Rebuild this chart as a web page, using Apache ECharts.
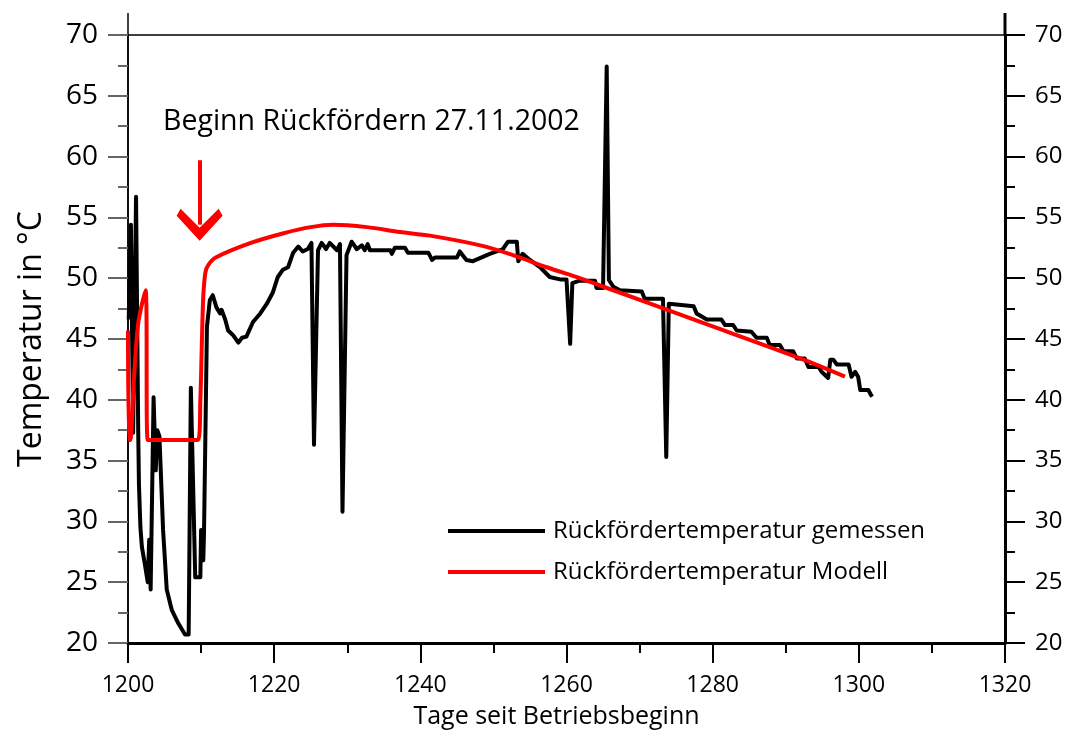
<!DOCTYPE html>
<html>
<head>
<meta charset="utf-8">
<script src="https://cdn.jsdelivr.net/npm/echarts@6/dist/echarts.min.js"></script>
<style>html,body{margin:0;padding:0;background:#fff}#c{width:1069px;height:731px}</style>
</head>
<body>
<div id="c"></div>
<script>
// ---- data ----
var xTicks = [1200, 1220, 1240, 1260, 1280, 1300, 1320];
var yTicks = [20, 25, 30, 35, 40, 45, 50, 55, 60, 65, 70];
var seriesNames = ['Rückfördertemperatur gemessen', 'Rückfördertemperatur Modell'];

var measuredDays = [1200.1,1200.4,1200.7,1201.1,1201.4,1201.5,1201.7,1201.9,1202.3,1202.7,1202.9,1203.1,1203.5,1203.8,1204.0,1204.3,1204.8,1205.3,1206.0,1206.9,1207.8,1208.3,1208.6,1209.2,1209.9,1210.0,1210.3,1210.4,1210.8,1211.2,1211.6,1212.1,1212.6,1212.8,1213.3,1213.7,1214.4,1215.1,1215.6,1216.2,1217.1,1218.1,1219.0,1219.8,1220.5,1221.2,1221.9,1222.6,1223.3,1223.9,1224.6,1225.1,1225.45,1226.0,1226.5,1227.1,1227.6,1228.6,1229.0,1229.35,1229.9,1230.6,1231.3,1232.0,1232.4,1232.8,1233.1,1235.9,1236.1,1236.5,1237.9,1238.3,1241.1,1241.6,1242.0,1245.0,1245.4,1246.3,1247.2,1249.5,1251.3,1252.0,1253.2,1253.4,1254.0,1255.0,1256.4,1257.7,1259.1,1260.0,1260.5,1260.8,1261.8,1263.9,1264.1,1265.0,1265.5,1265.8,1266.4,1267.3,1270.3,1270.7,1273.2,1273.65,1274.0,1277.4,1277.8,1279.2,1281.2,1281.7,1282.8,1283.3,1285.3,1286.0,1287.4,1287.8,1289.2,1289.7,1291.0,1291.5,1292.6,1293.1,1294.5,1294.9,1295.8,1296.1,1296.5,1297.0,1298.6,1299.0,1299.5,1299.9,1300.2,1301.3,1301.8];
var measuredTemps = [46.6,54.4,37.3,56.7,37.3,33.0,29.5,27.9,26.5,25.0,28.5,24.4,40.2,34.2,37.5,37.0,29.3,24.4,22.7,21.6,20.7,20.7,41.0,25.4,25.4,29.3,26.8,29.0,46.0,48.2,48.6,47.6,47.1,47.4,46.6,45.7,45.3,44.7,45.1,45.2,46.4,47.1,47.9,48.8,50.1,50.7,50.9,52.1,52.6,52.2,52.4,52.9,36.3,52.3,52.9,52.4,52.9,52.3,52.8,30.8,51.9,53.0,52.4,52.7,52.3,52.8,52.3,52.3,52.0,52.5,52.5,52.1,52.1,51.5,51.7,51.7,52.2,51.5,51.4,52.0,52.4,53.0,53.0,51.4,52.0,51.5,50.9,50.1,49.9,49.9,44.6,49.6,49.8,49.8,49.2,49.2,67.4,49.85,49.3,49.0,48.9,48.3,48.3,35.3,47.9,47.7,47.1,46.6,46.6,46.15,46.15,45.7,45.6,45.1,45.1,44.5,44.5,44.0,44.0,43.4,43.4,42.7,42.7,42.3,41.8,43.3,43.3,42.9,42.9,41.9,42.3,41.9,40.8,40.8,40.25];

var modelDays = [1200.0,1200.1,1200.3,1200.8,1201.4,1202.4,1202.7,1209.6,1209.9,1210.1,1210.3,1210.6,1211.0,1212.0,1216.8,1221.3,1225.0,1228.1,1232.7,1237.2,1241.3,1248.2,1252.7,1257.3,1261.8,1264.6,1278.3,1292.0,1298.1];
var modelTemps = [45.7,36.7,36.7,41.6,46.3,49.0,36.7,36.7,40.0,44.5,48.5,50.5,51.1,51.7,52.9,53.7,54.2,54.4,54.2,53.8,53.5,52.7,51.9,50.9,50.0,49.4,46.4,43.4,41.9];

var annotationText = 'Beginn Rückfördern 27.11.2002';
var arrowDay = 1209.8, arrowFrom = 59.7, arrowTo = 54.4;
var xTitle = 'Tage seit Betriebsbeginn';
var yTitle = 'Temperatur in °C';

function pairs(xs, ys){ return xs.map(function(x,i){ return [x, ys[i]]; }); }
function plain(v){ return String(v); }

var FONT = 'Open Sans';
var chevron = 'path://M0,0 L23,25 L19,32 L0,13 L-19,32 L-23,25 Z';
var chart = echarts.init(document.getElementById('c'), null, {renderer:'canvas'});
chart.setOption({
  animation: false,
  textStyle: {fontFamily: FONT, color:'#000'},
  grid: {left:128, right:64, top:35, bottom:88, containLabel:false, outerBoundsMode:'none',
         show:true, borderColor:'#000', borderWidth:1.5, backgroundColor:'transparent'},
  legend: {
    orient:'vertical', left:448, top:519, padding:0, itemWidth:97, itemHeight:4, itemGap:17, icon:'rect',
    textStyle:{fontFamily:FONT, fontSize:24, lineHeight:24, color:'#000', padding:[0,0,0,3]},
    data: seriesNames
  },
  xAxis: {
    type:'value', min:xTicks[0], max:xTicks[xTicks.length-1], interval:20,
    name:xTitle, nameLocation:'middle', nameGap:61,
    nameTextStyle:{fontFamily:FONT, fontSize:25, color:'#000', padding:[0,20,0,0]},
    axisLine:{show:true, onZero:false, lineStyle:{color:'#000', width:3}},
    axisTick:{show:true, length:20, lineStyle:{color:'#000', width:2}},
    minorTick:{show:true, splitNumber:2, length:10, lineStyle:{color:'#000', width:2}},
    axisLabel:{fontFamily:FONT, fontSize:23, color:'#000', margin:31, formatter:plain},
    splitLine:{show:false}
  },
  yAxis: [{
    type:'value', min:yTicks[0], max:yTicks[yTicks.length-1], interval:5, position:'left',
    name:yTitle, nameLocation:'middle', nameGap:80, nameRotate:90,
    nameTextStyle:{fontFamily:FONT, fontSize:32, color:'#000'},
    axisLine:{show:true, onZero:false, lineStyle:{color:'#000', width:1.5}},
    axisTick:{show:true, length:20, lineStyle:{color:'#666', width:2}},
    minorTick:{show:true, splitNumber:2, length:10, lineStyle:{color:'#666', width:2}},
    axisLabel:{fontFamily:FONT, fontSize:28, color:'#000', margin:30, formatter:plain},
    splitLine:{show:false}
  },{
    type:'value', min:yTicks[0], max:yTicks[yTicks.length-1], interval:5, position:'right',
    axisLine:{show:true, onZero:false, lineStyle:{color:'#000', width:3}},
    axisTick:{show:true, length:20, lineStyle:{color:'#000', width:2}},
    minorTick:{show:true, splitNumber:2, length:10, lineStyle:{color:'#000', width:2}},
    axisLabel:{fontFamily:FONT, fontSize:24, color:'#000', margin:30, formatter:plain},
    splitLine:{show:false}
  }],
  graphic: [
    {type:'text', left:163, top:107, style:{text:annotationText, font:'28.5px "Open Sans"', fill:'#000'}},
    {type:'line', shape:{x1:128, y1:13, x2:128, y2:35}, style:{stroke:'#000', lineWidth:1.5}},
    {type:'line', shape:{x1:1005, y1:13, x2:1005, y2:35}, style:{stroke:'#000', lineWidth:3}}
  ],
  series: [{
    name: seriesNames[0], type:'line', data: pairs(measuredDays, measuredTemps),
    symbol:'none', showSymbol:false, smooth:false,
    lineStyle:{color:'#000', width:4, join:'round'}, itemStyle:{color:'#000'}
  },{
    name: seriesNames[1], type:'line', data: pairs(modelDays, modelTemps),
    symbol:'none', showSymbol:false, smooth:0.3,
    lineStyle:{color:'#ff0000', width:4}, itemStyle:{color:'#ff0000'},
    markLine:{
      silent:true, symbol:['none', chevron], symbolSize:[46,32],
      lineStyle:{color:'#ff0000', width:4, type:'solid'},
      label:{show:false},
      data:[[{coord:[arrowDay, arrowFrom]},{coord:[arrowDay, arrowTo]}]]
    }
  }]
});
</script>
</body>
</html>
